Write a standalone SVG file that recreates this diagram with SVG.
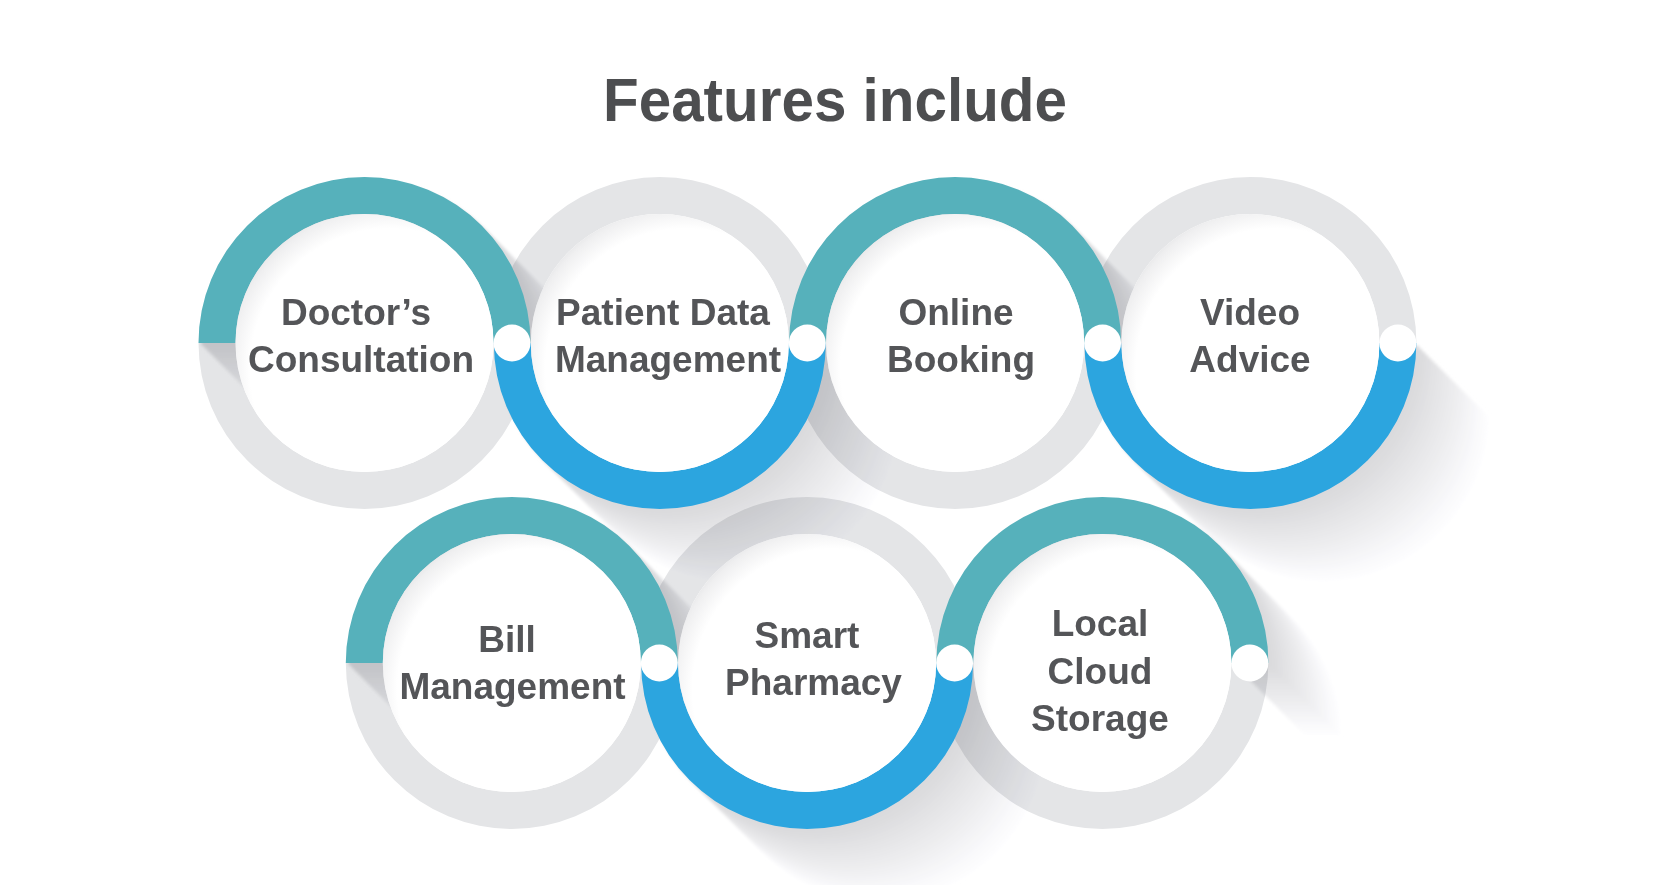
<svg xmlns="http://www.w3.org/2000/svg" xmlns:xlink="http://www.w3.org/1999/xlink" width="1667" height="885" viewBox="0 0 1667 885">
  <style>
    .gray { fill: #e4e5e7; }
    .teal { fill: #56b1bb; }
    .blue { fill: #2ca5df; }
    .disk { fill: url(#diskGrad); }
    .dot { fill: #ffffff; }
    .label { font-family: "Liberation Sans", Arial, sans-serif; font-weight: bold; font-size: 37px; fill: #545558; text-anchor: middle; }
    .title { font-family: "Liberation Sans", Arial, sans-serif; font-weight: bold; font-size: 61px; fill: #4d4e50; text-anchor: middle; }
  </style>
  <defs>
    <path id="top" d="M-166 0A166 166 0 0 1 166 0H129A129 129 0 0 0 -129 0Z"/>
    <path id="bot" d="M-166 0A166 166 0 0 0 166 0H129A129 129 0 0 1 -129 0Z"/>
    <g id="arcs">
      <use href="#top" x="364.5" y="343"/>
      <use href="#bot" x="659.8" y="343"/>
      <use href="#top" x="955.1" y="343"/>
      <use href="#bot" x="1250.4" y="343"/>
      <use href="#top" x="511.8" y="663"/>
      <use href="#bot" x="807.1" y="663"/>
      <use href="#top" x="1102.4" y="663"/>
    </g>
    <radialGradient id="diskGrad" cx="0.6" cy="0.6" r="0.68" fx="0.6" fy="0.6">
      <stop offset="0" stop-color="#ffffff"/>
      <stop offset="0.8" stop-color="#ffffff"/>
      <stop offset="0.92" stop-color="#efeff0"/>
      <stop offset="1" stop-color="#dcdddf"/>
    </radialGradient>
    <filter id="soft" x="-10%" y="-10%" width="130%" height="130%">
      <feGaussianBlur stdDeviation="1.5"/>
    </filter>
  </defs>

  <rect width="1667" height="885" fill="#ffffff"/>

  <text class="title" x="835" y="121" textLength="464" lengthAdjust="spacingAndGlyphs">Features include</text>

  <g id="rings-gray">
    <use href="#bot" x="364.5" y="343" class="gray"/>
    <use href="#top" x="659.8" y="343" class="gray"/>
    <use href="#bot" x="955.1" y="343" class="gray"/>
    <use href="#top" x="1250.4" y="343" class="gray"/>
    <use href="#bot" x="511.8" y="663" class="gray"/>
    <use href="#top" x="807.1" y="663" class="gray"/>
    <use href="#bot" x="1102.4" y="663" class="gray"/>
  </g>

  <g id="long-shadows" style="mix-blend-mode:multiply" filter="url(#soft)">
    <use href="#arcs" transform="translate(72 72)" fill="rgb(253,253,254)"/>
    <use href="#arcs" transform="translate(69 69)" fill="rgb(252,252,253)"/>
    <use href="#arcs" transform="translate(66 66)" fill="rgb(250,250,252)"/>
    <use href="#arcs" transform="translate(63 63)" fill="rgb(249,249,251)"/>
    <use href="#arcs" transform="translate(60 60)" fill="rgb(247,247,249)"/>
    <use href="#arcs" transform="translate(57 57)" fill="rgb(246,246,248)"/>
    <use href="#arcs" transform="translate(54 54)" fill="rgb(244,244,246)"/>
    <use href="#arcs" transform="translate(51 51)" fill="rgb(243,243,245)"/>
    <use href="#arcs" transform="translate(48 48)" fill="rgb(241,241,243)"/>
    <use href="#arcs" transform="translate(45 45)" fill="rgb(240,240,242)"/>
    <use href="#arcs" transform="translate(42 42)" fill="rgb(238,238,240)"/>
    <use href="#arcs" transform="translate(39 39)" fill="rgb(236,236,238)"/>
    <use href="#arcs" transform="translate(36 36)" fill="rgb(235,235,237)"/>
    <use href="#arcs" transform="translate(33 33)" fill="rgb(233,233,235)"/>
    <use href="#arcs" transform="translate(30 30)" fill="rgb(232,232,234)"/>
    <use href="#arcs" transform="translate(27 27)" fill="rgb(230,230,232)"/>
    <use href="#arcs" transform="translate(24 24)" fill="rgb(229,229,231)"/>
    <use href="#arcs" transform="translate(21 21)" fill="rgb(227,227,229)"/>
    <use href="#arcs" transform="translate(18 18)" fill="rgb(226,226,228)"/>
    <use href="#arcs" transform="translate(15 15)" fill="rgb(224,224,226)"/>
    <use href="#arcs" transform="translate(12 12)" fill="rgb(223,223,225)"/>
    <use href="#arcs" transform="translate(9 9)" fill="rgb(221,221,223)"/>
    <use href="#arcs" transform="translate(6 6)" fill="rgb(220,220,222)"/>
    <use href="#arcs" transform="translate(3 3)" fill="rgb(218,218,221)"/>
  </g>

  <g id="rings-color">
    <use href="#top" x="364.5" y="343" class="teal"/>
    <use href="#bot" x="659.8" y="343" class="blue"/>
    <use href="#top" x="955.1" y="343" class="teal"/>
    <use href="#bot" x="1250.4" y="343" class="blue"/>
    <use href="#top" x="511.8" y="663" class="teal"/>
    <use href="#bot" x="807.1" y="663" class="blue"/>
    <use href="#top" x="1102.4" y="663" class="teal"/>
  </g>

  <g id="node-doctors-consultation">
    <circle class="disk" cx="364.5" cy="343" r="129"/>
    <text class="label" x="356" y="325">Doctor’s</text>
    <text class="label" x="361" y="372">Consultation</text>
  </g>
  <g id="node-patient-data-management">
    <circle class="disk" cx="659.8" cy="343" r="129"/>
    <text class="label" x="663" y="325">Patient Data</text>
    <text class="label" x="668" y="372">Management</text>
  </g>
  <g id="node-online-booking">
    <circle class="disk" cx="955.1" cy="343" r="129"/>
    <text class="label" x="956" y="325">Online</text>
    <text class="label" x="961" y="372">Booking</text>
  </g>
  <g id="node-video-advice">
    <circle class="disk" cx="1250.4" cy="343" r="129"/>
    <text class="label" x="1250" y="325">Video</text>
    <text class="label" x="1250" y="372">Advice</text>
  </g>
  <g id="node-bill-management">
    <circle class="disk" cx="511.8" cy="663" r="129"/>
    <text class="label" x="507" y="652">Bill</text>
    <text class="label" x="512.5" y="699">Management</text>
  </g>
  <g id="node-smart-pharmacy">
    <circle class="disk" cx="807.1" cy="663" r="129"/>
    <text class="label" x="807" y="648">Smart</text>
    <text class="label" x="813.5" y="695">Pharmacy</text>
  </g>
  <g id="node-local-cloud-storage">
    <circle class="disk" cx="1102.4" cy="663" r="129"/>
    <text class="label" x="1100" y="636">Local</text>
    <text class="label" x="1100" y="684">Cloud</text>
    <text class="label" x="1100" y="731">Storage</text>
  </g>

  <g id="connectors">
    <circle class="dot" cx="512" cy="343" r="18.5"/>
    <circle class="dot" cx="807.3" cy="343" r="18.5"/>
    <circle class="dot" cx="1102.6" cy="343" r="18.5"/>
    <circle class="dot" cx="1397.9" cy="343" r="18.5"/>
    <circle class="dot" cx="659.3" cy="663" r="18.5"/>
    <circle class="dot" cx="954.6" cy="663" r="18.5"/>
    <circle class="dot" cx="1249.9" cy="663" r="18.5"/>
  </g>
</svg>
